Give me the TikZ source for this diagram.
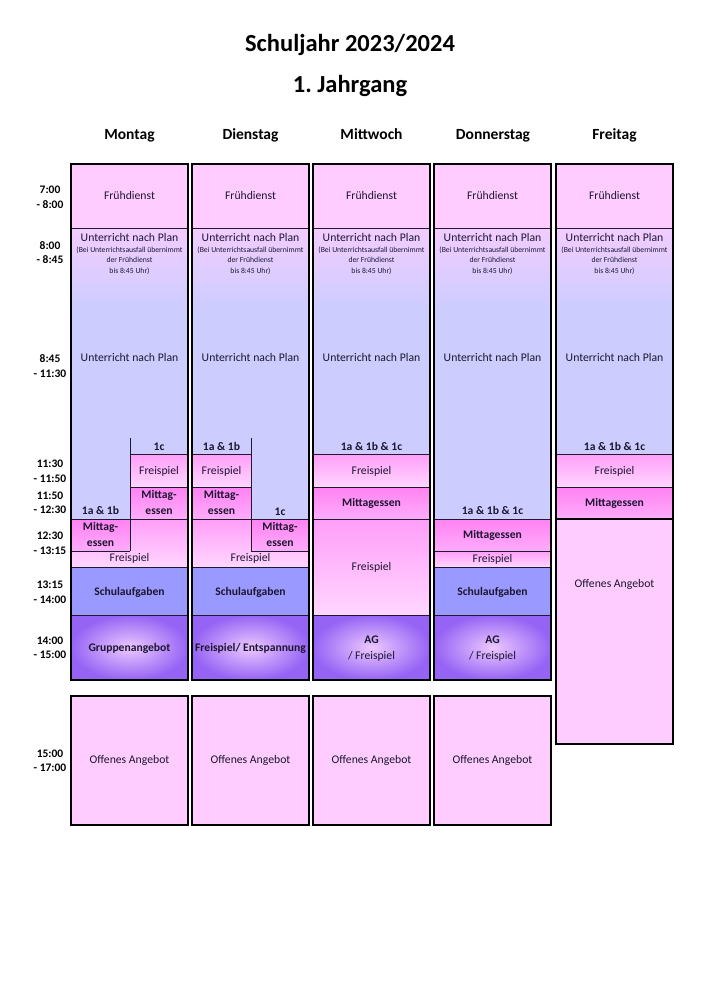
\documentclass[tikz,border=0pt]{standalone}
\usepackage{fontspec}
\setmainfont{Carlito}
\frenchspacing
\definecolor{pinkl}{RGB}{255,204,255}
\definecolor{lav}{RGB}{204,204,255}
\definecolor{fstop}{RGB}{255,158,248}
\definecolor{fsbot}{RGB}{255,214,255}
\definecolor{mtop}{RGB}{255,130,242}
\definecolor{mbot}{RGB}{255,172,252}
\definecolor{schul}{RGB}{153,153,255}
\definecolor{agin}{RGB}{236,200,255}
\definecolor{agout}{RGB}{150,100,245}
\definecolor{txt}{RGB}{28,22,48}
\definecolor{linec}{RGB}{30,25,45}
\begin{document}
\begin{tikzpicture}[x=1pt,y=-1pt,
  frame/.style={draw=black,line width=2.2pt},
  sepl/.style={draw=linec,line width=1pt},
  rl/.style={font=\fontsize{11.7}{14}\selectfont,text=txt,anchor=base,inner sep=0pt},
  bl/.style={font=\bfseries\fontsize{11.6}{14}\selectfont,text=txt,anchor=base,inner sep=0pt},
  sl/.style={font=\fontsize{7.7}{9}\selectfont,text=txt,anchor=base,inner sep=0pt},
  tl/.style={font=\bfseries\fontsize{11.5}{14}\selectfont,text=black,anchor=base,inner sep=0pt},
  dl/.style={font=\bfseries\fontsize{15.5}{18}\selectfont,text=black,anchor=base,inner sep=0pt},
  ttl/.style={font=\bfseries\fontsize{24.5}{30}\selectfont,text=black,anchor=base,inner sep=0pt},
  fsh/.style={top color=fstop,bottom color=fsbot,draw=none},
  msh/.style={top color=mtop,bottom color=mbot,draw=none},
  agsh/.style={inner color=agin,outer color=agout,draw=none},
]
\useasboundingbox[fill=white] (0,0) rectangle (701,992);

% titles
\node[ttl] (title) at (350,52) {Schuljahr 2023/2024};
\node[ttl] (jahr) at (350,93) {1.\ Jahrgang};
\foreach \c/\d/\n in {129.5/Montag/mo,250.5/Dienstag/di,371.5/Mittwoch/mi,493/Donnerstag/do,614.5/Freitag/fr}
  \node[dl] (day\n) at (\c,139.5) {\d};

% time labels
\foreach \y/\a/\b/\n in {193.5/7:00/- 8:00/t1,249/8:00/- 8:45/t2,362.5/8:45/- 11:30/t3,467.5/11:30/- 11:50/t4,499/11:50/- 12:30/t5,539.5/12:30/- 13:15/t6,588.5/13:15/- 14:00/t7,644/14:00/- 15:00/t8,757/15:00/- 17:00/t9}{
  \node[tl] (\n a) at (50,\y) {\a};
  \node[tl] (\n b) at (50,\y+14.8) {\b};
}

% common upper part of every column
\foreach \x/\n in {71/mo,192/di,313/mi,434/do,556/fr}{
  \fill[pinkl] (\x,164) rectangle +(117,65);
  \shade[top color=pinkl!75!lav,bottom color=lav] (\x,229) rectangle +(117,81);
  \fill[lav] (\x,309) rectangle +(117,210);
  \draw[sepl] (\x,229) -- +(117,0);
  \node[rl] (fd\n) at (\x+58.5,200) {Frühdienst};
  \node[rl] (up\n) at (\x+58.5,241) {Unterricht nach Plan};
  \node[sl] (s1\n) at (\x+58.5,252) {(Bei Unterrichtsausfall übernimmt};
  \node[sl] (s2\n) at (\x+58.5,262.5) {der Frühdienst};
  \node[sl] (s3\n) at (\x+58.5,273) {bis 8:45 Uhr)};
  \node[rl] (um\n) at (\x+58.5,361) {Unterricht nach Plan};
}

% ---------- Montag ----------
\shade[fsh] (130,454) rectangle (188,487);
\shade[msh] (130,487) rectangle (188,519);
\shade[msh] (71,519) rectangle (130,551);
\shade[fsh] (130,519) -- (188,519) -- (188,567) -- (71,567) -- (71,551) -- (130,551) -- cycle;
\fill[schul] (71,567) rectangle (188,615);
\shade[agsh] (71,615) rectangle (188,680);
\draw[sepl] (130,438) -- (130,551);
\draw[sepl] (130,454) -- (188,454);
\draw[sepl] (130,487) -- (188,487);
\draw[sepl] (71,519) -- (188,519);
\draw[sepl] (71,551) -- (130,551);
\draw[sepl] (71,567) -- (188,567);
\draw[sepl] (71,615) -- (188,615);
\node[bl] (mo1c) at (159,450) {1c};
\node[rl] (mofs1) at (159,474) {Freispiel};
\node[bl] (moma1) at (159,498.5) {Mittag-};
\node[bl] (moma2) at (159,514) {essen};
\node[bl] (mo1ab) at (100.5,514) {1a \& 1b};
\node[bl] (momb1) at (100.5,530.5) {Mittag-};
\node[bl] (momb2) at (100.5,546) {essen};
\node[rl] (mofs2) at (129.5,561.5) {Freispiel};
\node[bl] (mosa) at (129.5,595) {Schulaufgaben};
\node[bl] (moga) at (129.5,651.5) {Gruppenangebot};
\draw[frame] (71,164) rectangle (188,680);

% ---------- Dienstag ----------
\shade[fsh] (192,454) rectangle (251,487);
\shade[msh] (192,487) rectangle (251,519);
\shade[msh] (251,519) rectangle (309,551);
\shade[fsh] (192,519) -- (251,519) -- (251,551) -- (309,551) -- (309,567) -- (192,567) -- cycle;
\fill[schul] (192,567) rectangle (309,615);
\shade[agsh] (192,615) rectangle (309,680);
\draw[sepl] (251,438) -- (251,551);
\draw[sepl] (192,454) -- (251,454);
\draw[sepl] (192,487) -- (251,487);
\draw[sepl] (192,519) -- (309,519);
\draw[sepl] (251,551) -- (309,551);
\draw[sepl] (192,567) -- (309,567);
\draw[sepl] (192,615) -- (309,615);
\node[bl] (di1ab) at (221.5,450) {1a \& 1b};
\node[rl] (difs1) at (221.5,474) {Freispiel};
\node[bl] (dima1) at (221.5,498.5) {Mittag-};
\node[bl] (dima2) at (221.5,514) {essen};
\node[bl] (di1c) at (280,515) {1c};
\node[bl] (dimb1) at (280,530.5) {Mittag-};
\node[bl] (dimb2) at (280,546) {essen};
\node[rl] (difs2) at (250.5,561.5) {Freispiel};
\node[bl] (disa) at (250.5,595) {Schulaufgaben};
\node[bl] (dife) at (250.5,651.5) {Freispiel/ Entspannung};
\draw[frame] (192,164) rectangle (309,680);

% ---------- Mittwoch ----------
\shade[fsh] (313,454) rectangle (430,487);
\shade[msh] (313,487) rectangle (430,519);
\shade[fsh] (313,519) rectangle (430,615);
\shade[agsh] (313,615) rectangle (430,680);
\draw[sepl] (313,454) -- (430,454);
\draw[sepl] (313,487) -- (430,487);
\draw[sepl] (313,519) -- (430,519);
\draw[sepl] (313,615) -- (430,615);
\node[bl] (miabc) at (371.5,450) {1a \& 1b \& 1c};
\node[rl] (mifs1) at (371.5,474) {Freispiel};
\node[bl] (mima) at (371.5,506) {Mittagessen};
\node[rl] (mifs2) at (371.5,570) {Freispiel};
\node[bl] (miag) at (371.5,643.5) {AG};
\node[rl] (miagf) at (371.5,659) {/ Freispiel};
\draw[frame] (313,164) rectangle (430,680);

% ---------- Donnerstag ----------
\shade[msh] (434,519) rectangle (551,551);
\shade[fsh] (434,551) rectangle (551,567);
\fill[schul] (434,567) rectangle (551,615);
\shade[agsh] (434,615) rectangle (551,680);
\draw[sepl] (434,519) -- (551,519);
\draw[sepl] (434,551) -- (551,551);
\draw[sepl] (434,567) -- (551,567);
\draw[sepl] (434,615) -- (551,615);
\node[bl] (doabc) at (492.5,514) {1a \& 1b \& 1c};
\node[bl] (doma) at (492.5,538.5) {Mittagessen};
\node[rl] (dofs) at (492.5,562.5) {Freispiel};
\node[bl] (dosa) at (492.5,595) {Schulaufgaben};
\node[bl] (doag) at (492.5,643.5) {AG};
\node[rl] (doagf) at (492.5,659) {/ Freispiel};
\draw[frame] (434,164) rectangle (551,680);

% ---------- Freitag ----------
\shade[fsh] (556,454) rectangle (673,487);
\shade[msh] (556,487) rectangle (673,519);
\fill[pinkl] (556,519) rectangle (673,744);
\draw[sepl] (556,454) -- (673,454);
\draw[sepl] (556,487) -- (673,487);
\node[bl] (frabc) at (614.5,450) {1a \& 1b \& 1c};
\node[rl] (frfs) at (614.5,474) {Freispiel};
\node[bl] (frma) at (614.5,506) {Mittagessen};
\node[rl] (froa) at (614.5,587) {Offenes Angebot};
\draw[frame] (556,164) rectangle (673,519);
\draw[frame] (556,519) rectangle (673,744);

% ---------- afternoon boxes ----------
\foreach \x/\n in {71/mo,192/di,313/mi,434/do}{
  \fill[pinkl] (\x,696) rectangle +(117,129);
  \draw[frame] (\x,696) rectangle +(117,129);
  \node[rl] (oa\n) at (\x+58.5,763.5) {Offenes Angebot};
}
\end{tikzpicture}
\end{document}
